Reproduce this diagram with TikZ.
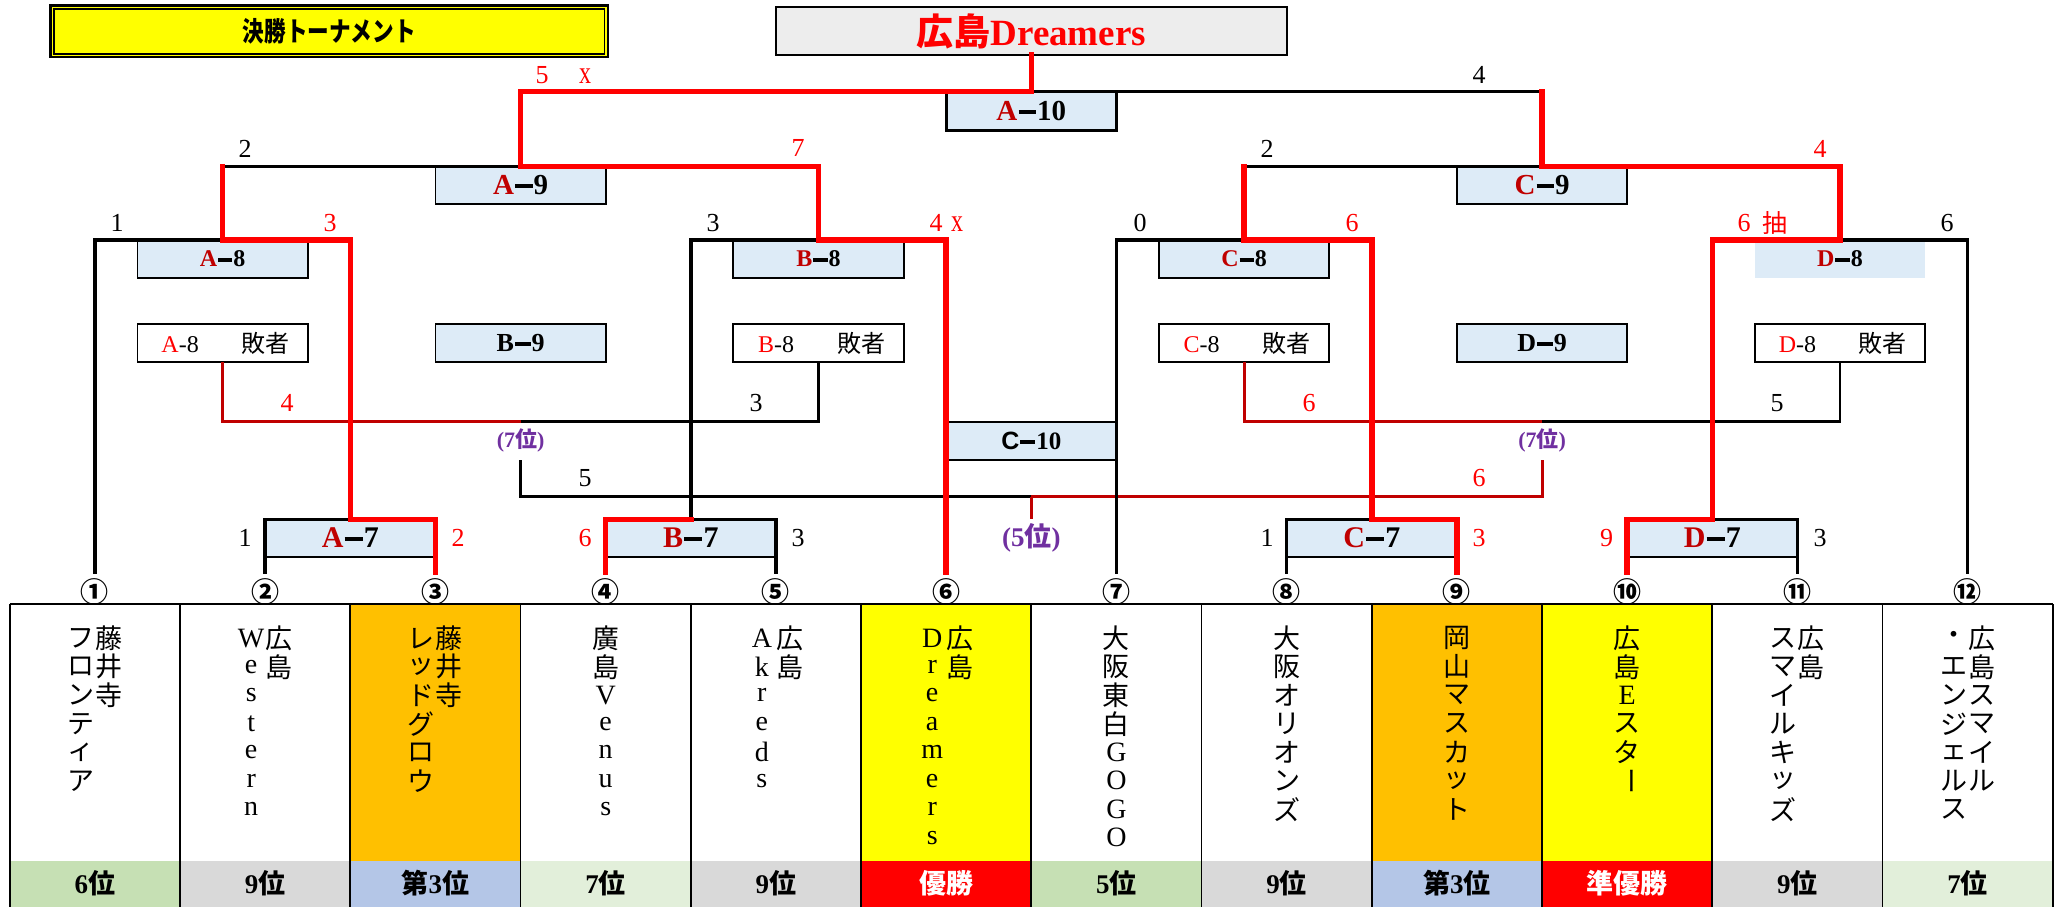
\documentclass[tikz,border=0pt]{standalone}
\usepackage{fontspec}
\usepackage{graphicx}
\setmainfont{Liberation Serif}
\setsansfont{Liberation Sans}
\newfontfamily\jp{Noto Sans CJK JP}
\definecolor{lblue}{HTML}{DDEBF7}
\definecolor{ltgray}{HTML}{EDEDED}
\definecolor{dred}{HTML}{C00000}
\definecolor{lred}{HTML}{FF0000}
\definecolor{purp}{HTML}{7030A0}
\definecolor{orng}{HTML}{FFC000}
\definecolor{yel}{HTML}{FFFF00}
\definecolor{rgreen}{HTML}{C6E0B4}
\definecolor{rgray}{HTML}{D9D9D9}
\definecolor{rblue}{HTML}{B4C6E7}
\definecolor{rlgreen}{HTML}{E2EFDA}
\newcommand{\fs}[1]{\fontsize{#1}{#1}\selectfont}
\newcommand{\dsh}{\kern0.04em\rule[0.22em]{0.6em}{0.15em}\kern0.04em}
\newcommand{\bl}[2]{\textbf{\textcolor{dred}{#1}\dsh#2}}
\newcommand{\lat}[1]{{\rmfamily\fs{28}#1}}
\newcommand{\vcol}[3]{\foreach \ch [count=\nn] in {#3} {\node[vt] (#1-\nn) at (#2,{609.8+28.5*\nn}) {\ch};}}
\begin{document}
\begin{tikzpicture}[x=1pt,y=-1pt,
  every node/.style={inner sep=0pt,outer sep=0pt},
  blk/.style={line width=3.4pt,black,line cap=rect},
  win/.style={line width=5.4pt,lred,line cap=rect},
  los/.style={line width=2.8pt,dred},
  lbk/.style={line width=2.8pt,black},
  bord/.style={line width=1.8pt,black},
  mb/.style={fill=lblue,minimum width=170.25pt,minimum height=37.4pt},
  lb/.style={draw=black,line width=1.8pt,fill=white,minimum width=170.25pt,minimum height=37.4pt,font=\fs{24}},
  sc/.style={font=\fs{26}},
  scr/.style={font=\fs{26},text=lred},
  xm/.style={font=\fs{32},text=lred},
  circ/.style={circle,minimum size=22pt,font=\jp\bfseries\fs{28}},
  vt/.style={font=\jp\fs{27}},
  rk/.style={font=\bfseries\fs{27}},
]
\useasboundingbox (0,0) rectangle (2065,907);

% ---- title boxes
\draw[line width=2.4pt,fill=yel] (50.4,5.7) rectangle (608,57.3);
\draw[line width=1.6pt] (53.8,9.2) rectangle (604.6,53.8);
\node[font=\jp\bfseries\fs{27}] (title) at (329.2,31.5) {\scalebox{0.8}[1]{決勝トーナメント}};
\node[draw=black,line width=2pt,fill=ltgray,minimum width=510.5pt,minimum height=47.7pt,text=lred,font=\bfseries\fs{37}] (champ) at (1031.3,31.2) {{\jp 広島}Dreamers};

% ---- table
\foreach \c/\nf/\rf in {0/white/rgreen,1/white/rgray,2/orng/rblue,3/white/rlgreen,4/white/rgray,5/yel/lred,6/white/rgreen,7/white/rgray,8/orng/rblue,9/yel/lred,10/white/rgray,11/white/rlgreen}{
  \fill[\nf] ({9.8+170.25*\c},604) rectangle ++(170.25,257);
  \fill[\rf] ({9.8+170.25*\c},861) rectangle ++(170.25,46);
}
\draw[bord] (9.8,604) -- (2052.8,604);
\foreach \c in {0,...,12} \draw[bord] ({9.8+170.25*\c},604) -- ++(0,303);

% ---- match boxes
\node[mb,minimum height=38.6pt,font=\fs{29}] (A10) at (1031.3,111) {\bl{A}{10}};
\node[mb,minimum height=37.3pt,font=\fs{29}] (A9) at (520.6,185.35) {\bl{A}{9}};
\node[mb,minimum height=37.3pt,font=\fs{29}] (C9) at (1542.1,185.35) {\bl{C}{9}};
\node[mb,minimum height=38pt,font=\fs{24}] (A8) at (222.6,259) {\bl{A}{8}};
\node[mb,minimum height=38pt,font=\fs{24}] (B8) at (818.5,259) {\bl{B}{8}};
\node[mb,minimum height=38pt,font=\fs{24}] (C8) at (1244.1,259) {\bl{C}{8}};
\node[mb,minimum height=38pt,font=\fs{24}] (D8) at (1840,259) {\bl{D}{8}};
\node[lb] (LA) at (222.6,343) {\makebox[85pt]{\textcolor{lred}{A}-8}\makebox[85pt]{\jp 敗者}};
\node[lb] (LB) at (818.5,343) {\makebox[85pt]{\textcolor{lred}{B}-8}\makebox[85pt]{\jp 敗者}};
\node[lb] (LC) at (1244.1,343) {\makebox[85pt]{\textcolor{lred}{C}-8}\makebox[85pt]{\jp 敗者}};
\node[lb] (LD) at (1840,343) {\makebox[85pt]{\textcolor{lred}{D}-8}\makebox[85pt]{\jp 敗者}};
\node[mb,draw=black,line width=1.8pt,font=\fs{26}] (B9) at (520.6,343) {\textbf{B\dsh 9}};
\node[mb,draw=black,line width=1.8pt,font=\fs{26}] (D9) at (1542.1,343) {\textbf{D\dsh 9}};
\node[mb,minimum height=38.3pt,font=\fs{25}] (C10) at (1031.3,440.85) {\textbf{\sffamily C}\dsh\textbf{10}};
\node[mb,font=\fs{30}] (A7) at (350.3,538) {\bl{A}{7}};
\node[mb,font=\fs{30}] (B7) at (690.8,538) {\bl{B}{7}};
\node[mb,font=\fs{30}] (C7) at (1371.8,538) {\bl{C}{7}};
\node[mb,font=\fs{30}] (D7) at (1712.3,538) {\bl{D}{7}};

\node[font=\bfseries\fs{22},text=purp,minimum height=38.6pt] (P7a) at (520.6,440.8) {(7{\jp 位})};
\node[font=\bfseries\fs{22},text=purp,minimum height=38.6pt] (P7b) at (1542.1,440.8) {(7{\jp 位})};
\node[font=\bfseries\fs{27},text=purp,minimum height=37.4pt] (P5) at (1031.3,538) {(5{\jp 位})};

% ---- team number circles
\foreach \c/\t in {1/①,2/②,3/③,4/④,5/⑤,6/⑥,7/⑦,8/⑧,9/⑨,10/⑩,11/⑪,12/⑫}
  \node[circ] (t\c) at ({9.8+170.25*(\c-0.5)},591.7) {\t};

% ---- coordinates
\coordinate (pA7) at (350.3,519.3);
\coordinate (pB7) at (690.8,519.3);
\coordinate (pC7) at (1371.8,519.3);
\coordinate (pD7) at (1712.3,519.3);
\coordinate (pA8) at (222.6,240);
\coordinate (pB8) at (818.5,240);
\coordinate (pC8) at (1244.1,240);
\coordinate (pD8) at (1840,240);
\coordinate (qA8) at (222.6,166.7);
\coordinate (qC8) at (1244.1,166.7);
\coordinate (pA9) at (520.6,166.7);
\coordinate (pC9) at (1542.1,166.7);
\coordinate (pF) at (1031.3,91.7);
\coordinate (qC9) at (1542.1,91.7);
\coordinate (lA) at (520.6,421.7);
\coordinate (lC) at (1542.1,421.7);
\coordinate (f5) at (1031.3,496.7);

% ---- box borders
\draw[line width=3.2pt] (A10.north west) |- (A10.south east) -- (A10.north east);
\foreach \b in {A9,C9,A8,B8,C8}
  \draw[bord] (\b.north west) |- (\b.south east) -- (\b.north east);
\draw[bord] (C10.north west) -- (C10.north east) (C10.south west) -- (C10.south east);
\foreach \b in {A7,B7,C7,D7}
  \draw[bord] (\b.south west) -- (\b.south east);

% ---- losers' and placing connectors
\draw[los] (LA.south) |- (lA);
\draw[lbk] (lA) -| (LB.south);
\draw[los] (LC.south) |- (lC);
\draw[lbk] (lC) -| (LD.south);
\draw[lbk] (P7a.south) |- (f5);
\draw[los] (f5) -| (P7b.south);
\draw[los] (f5) -- (P5.north);

% ---- black bracket lines
\draw[blk] (t2.north) |- (pA7);
\draw[blk] (t5.north) |- (pB7) |- (pB8);
\draw[blk] (t8.north) |- (pC7);
\draw[blk] (t11.north) |- (pD7);
\draw[blk] (t1.north) |- (pA8);
\draw[blk] (t7.north) |- (pC8);
\draw[blk] (t12.north) |- (pD8);
\draw[blk] (qA8) -- (pA9);
\draw[blk] (qC8) -- (pC9);
\draw[blk] (pF) -- (qC9);

% ---- winners (red)
\draw[win] (t3.north) |- (pA7) |- (pA8) -- (qA8);
\draw[win] (t4.north) |- (pB7);
\draw[win] (t6.north) |- (pB8) |- (pA9) |- (pF) -- (champ.south);
\draw[win] (t9.north) |- (pC7) |- (pC8) -- (qC8);
\draw[win] (t10.north) |- (pD7) |- (pD8) |- (pC9) -- (qC9);

% ---- scores
\node[scr] (s1) at (542,75) {5};
\node[xm] (s2) at (585,76.5) {\scalebox{0.75}[1]{x}};
\node[sc] (s3) at (1479,75) {4};
\node[sc] (s4) at (245,149) {2};
\node[scr] (s5) at (798,148) {7};
\node[sc] (s6) at (1267,149) {2};
\node[scr] (s7) at (1820,149) {4};
\node[sc] (s8) at (117,223) {1};
\node[scr] (s9) at (330,223) {3};
\node[sc] (s10) at (713,223) {3};
\node[scr] (s11) at (936,223) {4};
\node[xm] (s12) at (957,224.5) {\scalebox{0.75}[1]{x}};
\node[sc] (s13) at (1140,223) {0};
\node[scr] (s14) at (1352,223) {6};
\node[scr] (s15) at (1744,223) {6};
\node[scr,font=\jp\fs{25}] (s16) at (1775,223) {抽};
\node[sc] (s17) at (1947,223) {6};
\node[scr] (s18) at (287,403) {4};
\node[sc] (s19) at (756,403) {3};
\node[scr] (s20) at (1309,403) {6};
\node[sc] (s21) at (1777,403) {5};
\node[sc] (s22) at (585,478) {5};
\node[scr] (s23) at (1479,478) {6};
\node[sc] (s24) at (245,538) {1};
\node[scr] (s25) at (458,538) {2};
\node[scr] (s26) at (585,538) {6};
\node[sc] (s27) at (798,538) {3};
\node[sc] (s28) at (1267,538) {1};
\node[scr] (s29) at (1479,538) {3};
\node[scr] (s30) at (1606.5,538) {9};
\node[sc] (s31) at (1820,538) {3};

% ---- team names (vertical)
\vcol{n1r}{108.9}{藤,井,寺}
\vcol{n1l}{80.9}{フ,ロ,ン,テ,ィ,ア}
\vcol{n2r}{279.2}{広,島}
\vcol{n2l}{251.2}{\lat{W},\lat{e},\lat{s},\lat{t},\lat{e},\lat{r},\lat{n}}
\vcol{n3r}{449.4}{藤,井,寺}
\vcol{n3l}{421.4}{レ,ッ,ド,グ,ロ,ウ}
\vcol{n4}{605.7}{廣,島,\lat{V},\lat{e},\lat{n},\lat{u},\lat{s}}
\vcol{n5r}{789.9}{広,島}
\vcol{n5l}{761.9}{\lat{A},\lat{k},\lat{r},\lat{e},\lat{d},\lat{s}}
\vcol{n6r}{960.2}{広,島}
\vcol{n6l}{932.2}{\lat{D},\lat{r},\lat{e},\lat{a},\lat{m},\lat{e},\lat{r},\lat{s}}
\vcol{n7}{1116.4}{大,阪,東,白,\lat{G},\lat{O},\lat{G},\lat{O}}
\vcol{n8}{1286.7}{大,阪,オ,リ,オ,ン,ズ}
\vcol{n9}{1456.9}{岡,山,マ,ス,カ,ッ,ト}
\vcol{n10}{1627.2}{広,島,\lat{E},ス,タ,\rotatebox{-90}{ー}}
\vcol{n11r}{1811.4}{広,島}
\vcol{n11l}{1783.4}{ス,マ,イ,ル,キ,ッ,ズ}
\vcol{n12r}{1981.7}{広,島,ス,マ,イ,ル}
\vcol{n12l}{1953.7}{・,エ,ン,ジ,ェ,ル,ス}

% ---- ranks
\node[rk] (r1) at (94.9,883.5) {6{\jp 位}};
\node[rk] (r2) at (265.2,883.5) {9{\jp 位}};
\node[rk] (r3) at (435.4,883.5) {{\jp 第}3{\jp 位}};
\node[rk] (r4) at (605.7,883.5) {7{\jp 位}};
\node[rk] (r5) at (775.9,883.5) {9{\jp 位}};
\node[rk,text=white] (r6) at (946.2,883.5) {{\jp 優勝}};
\node[rk] (r7) at (1116.4,883.5) {5{\jp 位}};
\node[rk] (r8) at (1286.7,883.5) {9{\jp 位}};
\node[rk] (r9) at (1456.9,883.5) {{\jp 第}3{\jp 位}};
\node[rk,text=white] (r10) at (1627.2,883.5) {{\jp 準優勝}};
\node[rk] (r11) at (1797.4,883.5) {9{\jp 位}};
\node[rk] (r12) at (1967.7,883.5) {7{\jp 位}};
\end{tikzpicture}
\end{document}
